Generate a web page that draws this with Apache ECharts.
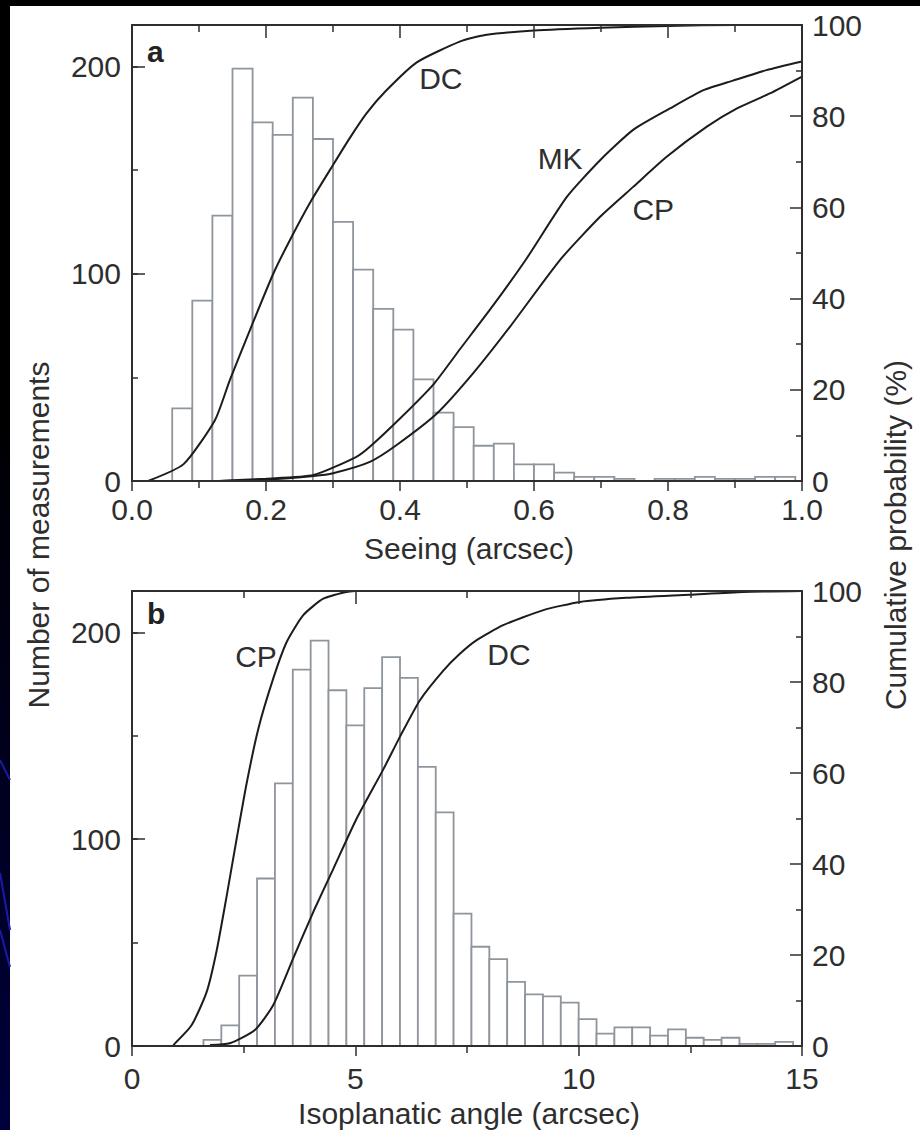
<!DOCTYPE html>
<html>
<head>
<meta charset="utf-8">
<title>Seeing and isoplanatic angle distributions</title>
<script src="https://cdn.jsdelivr.net/npm/echarts@6/dist/echarts.min.js"></script>
<style>
  html, body { margin: 0; padding: 0; background: #000; }
  #chart { width: 920px; height: 1130px; }
</style>
</head>
<body>
<div id="chart"></div>
<script>
// ---- Panel a: seeing (arcsec) ----
const seeingEdges = [0.06, 0.09, 0.12, 0.15, 0.18, 0.21, 0.24, 0.27, 0.30, 0.33, 0.36,
  0.39, 0.42, 0.45, 0.48, 0.51, 0.54, 0.57, 0.60, 0.63, 0.66, 0.69, 0.72, 0.75, 0.78,
  0.81, 0.84, 0.87, 0.90, 0.93, 0.96, 0.99];
const seeingCounts = [35, 87, 128, 199, 173, 167, 185, 165, 125, 102, 83, 73, 49, 33,
  26, 17, 18, 8, 8, 4, 2, 2, 1, 0, 1, 1, 2, 1, 1, 2, 2];

// cumulative probability (%) for the three sites
const seeingDC = [[0.024, 0], [0.077, 3.7], [0.124, 13.4], [0.146, 22.1], [0.176, 33.1],
  [0.211, 45.5], [0.236, 52.9], [0.268, 61.6], [0.300, 69.3], [0.325, 75.2], [0.35, 80.6],
  [0.378, 85.4], [0.425, 91.8], [0.49, 96.4], [0.527, 97.8], [0.6, 98.8], [0.7, 99.4],
  [0.8, 99.8], [0.9, 100], [1.0, 100]];
const seeingMK = [[0.13, 0], [0.2, 0.5], [0.271, 1.3], [0.335, 5.3], [0.355, 7.5],
  [0.40, 13.7], [0.45, 21.2], [0.49, 29.0], [0.539, 38.5], [0.589, 48.8], [0.649, 62.3],
  [0.699, 70.4], [0.748, 77.0], [0.803, 81.7], [0.853, 85.7], [0.897, 87.8], [0.947, 90.1],
  [1.0, 92.0]];
const seeingCP = [[0.13, 0], [0.2, 0.3], [0.271, 1.1], [0.300, 1.7], [0.355, 4.2],
  [0.395, 7.9], [0.455, 14.8], [0.509, 23.6], [0.564, 33.8], [0.639, 48.5], [0.699, 58.0],
  [0.748, 64.5], [0.798, 71.1], [0.858, 77.7], [0.903, 81.7], [0.952, 85.0], [1.0, 88.7]];

// ---- Panel b: isoplanatic angle (arcsec) ----
const isoEdges = [1.6, 2.0, 2.4, 2.8, 3.2, 3.6, 4.0, 4.4, 4.8, 5.2, 5.6, 6.0, 6.4, 6.8,
  7.2, 7.6, 8.0, 8.4, 8.8, 9.2, 9.6, 10.0, 10.4, 10.8, 11.2, 11.6, 12.0, 12.4, 12.8, 13.2,
  13.6, 14.0, 14.4, 14.8];
const isoCounts = [3, 10, 34, 81, 127, 182, 196, 172, 155, 173, 188, 178, 135, 113, 64,
  48, 42, 31, 25, 24, 21, 13, 6, 9, 9, 5, 8, 4, 3, 4, 1, 1, 2];

const isoCP = [[0.925, 0.2], [1.336, 4.6], [1.672, 11.9], [1.896, 21.0], [2.12, 33.0],
  [2.344, 45.6], [2.568, 57.8], [2.83, 69.8], [3.163, 80.8], [3.463, 88.8], [3.835, 94.7],
  [4.283, 98.3], [4.806, 99.8], [5.0, 100]];
const isoDC = [[1.746, 0.2], [2.19, 0.6], [2.75, 3.5], [3.163, 9.0], [3.611, 19.3],
  [4.06, 29.5], [4.51, 39.0], [5.03, 50.0], [5.626, 60.8], [6.0, 68.0], [6.447, 76.0],
  [6.97, 82.5], [7.34, 86.2], [7.717, 89.2], [8.31, 92.5], [9.21, 95.8], [10.03, 97.6],
  [11.07, 98.5], [12.49, 99.2], [13.68, 99.8], [15, 100]];

// ---- styling ----
const font = '"Liberation Sans", Arial, Helvetica, sans-serif';
const ink = '#2e2e2e';
const barStroke = '#8e959c';
const curveColor = '#1c1c1c';

function xAxisPair(grid, max, interval, decimals, labelMargin) {
  const line = { onZero: false, lineStyle: { color: ink, width: 2 } };
  return [
    {
      gridIndex: grid, type: 'value', position: 'bottom', min: 0, max: max, interval: interval,
      axisLine: line,
      axisTick: { inside: false, length: 10, lineStyle: { color: ink, width: 1.5 } },
      minorTick: { show: true, splitNumber: 2, length: 7, lineStyle: { color: ink, width: 1.5 } },
      axisLabel: { margin: labelMargin, fontSize: 30, color: ink, fontFamily: font,
        formatter: v => v.toFixed(decimals) },
      splitLine: { show: false }, minorSplitLine: { show: false }, z: 5
    },
    {
      gridIndex: grid, type: 'value', position: 'top', min: 0, max: max, interval: interval,
      axisLine: line,
      axisTick: { inside: true, length: 13, lineStyle: { color: ink, width: 1.5 } },
      minorTick: { show: true, splitNumber: 2, length: 7, lineStyle: { color: ink, width: 1.5 } },
      axisLabel: { show: false },
      splitLine: { show: false }, minorSplitLine: { show: false }, z: 5
    }
  ];
}

function yAxisSet(grid) {
  const line = { onZero: false, lineStyle: { color: ink, width: 2 } };
  return [
    { // counts, labelled every 100
      gridIndex: grid, type: 'value', position: 'left', min: 0, max: 220, interval: 100,
      axisLine: line,
      axisTick: { inside: true, length: 13, lineStyle: { color: ink, width: 1.5 } },
      axisLabel: { margin: 11, fontSize: 30, color: ink, fontFamily: font,
        formatter: v => (v % 100 === 0 ? String(v) : '') },
      splitLine: { show: false }, z: 5
    },
    { // counts, short ticks every 50
      gridIndex: grid, type: 'value', position: 'left', min: 0, max: 220, interval: 50,
      axisLine: { show: false },
      axisTick: { inside: true, length: 6, lineStyle: { color: ink, width: 1.5 } },
      axisLabel: { show: false },
      splitLine: { show: false }, z: 5
    },
    { // cumulative probability (%)
      gridIndex: grid, type: 'value', position: 'right', min: 0, max: 100, interval: 20,
      axisLine: line,
      axisTick: { inside: true, length: 12, lineStyle: { color: ink, width: 1.5 } },
      minorTick: { show: true, splitNumber: 2, length: 6, lineStyle: { color: ink, width: 1.5 } },
      axisLabel: { margin: 10, fontSize: 30, color: ink, fontFamily: font },
      splitLine: { show: false }, minorSplitLine: { show: false }, z: 5
    }
  ];
}

function histogram(xIndex, yIndex, edges, counts) {
  return {
    type: 'custom', xAxisIndex: xIndex, yAxisIndex: yIndex, z: 1, silent: true,
    data: counts.map((c, i) => [edges[i], edges[i + 1], c]),
    encode: { x: [0, 1], y: 2 },
    renderItem: (params, api) => {
      const topLeft = api.coord([api.value(0), api.value(2)]);
      const bottomRight = api.coord([api.value(1), 0]);
      return {
        type: 'rect',
        shape: { x: topLeft[0], y: topLeft[1],
                 width: bottomRight[0] - topLeft[0], height: bottomRight[1] - topLeft[1] },
        style: { fill: '#ffffff', stroke: barStroke, lineWidth: 1.8 }
      };
    }
  };
}

function curve(xIndex, yIndex, name, data, labelAt) {
  return {
    type: 'line', name: name, xAxisIndex: xIndex, yAxisIndex: yIndex, z: 3,
    data: data, showSymbol: false, smooth: 0.2, silent: true,
    lineStyle: { color: curveColor, width: 2 },
    markPoint: {
      symbol: 'circle', symbolSize: 0, silent: true,
      label: { show: true, position: 'inside', formatter: name, fontSize: 30,
               color: ink, fontFamily: font },
      data: [{ coord: labelAt }]
    }
  };
}

const titleStyle = { fontSize: 30, fill: ink, fontFamily: font };

const option = {
  backgroundColor: '#000000',
  animation: false,
  grid: [
    { left: 132, top: 25, width: 670, height: 456, outerBoundsMode: 'none' },
    { left: 132, top: 591, width: 670, height: 455, outerBoundsMode: 'none' }
  ],
  xAxis: [
    ...xAxisPair(0, 1, 0.2, 1, 13),
    ...xAxisPair(1, 15, 5, 0, 17)
  ],
  yAxis: [
    ...yAxisSet(0),
    ...yAxisSet(1)
  ],
  series: [
    histogram(0, 0, seeingEdges, seeingCounts),
    curve(0, 2, 'DC', seeingDC, [0.461, 88.2]),
    curve(0, 2, 'MK', seeingMK, [0.639, 70.8]),
    curve(0, 2, 'CP', seeingCP, [0.778, 59.6]),
    histogram(2, 3, isoEdges, isoCounts),
    curve(2, 5, 'CP', isoCP, [2.776, 85.7]),
    curve(2, 5, 'DC', isoDC, [8.44, 86.1])
  ],
  graphic: [
    { type: 'rect', z: -10, silent: true,
      shape: { x: 10, y: 6, width: 910, height: 1124 }, style: { fill: '#ffffff' } },
    { type: 'rect', z: -10, silent: true,
      shape: { x: 0, y: 400, width: 10, height: 730 },
      style: { fill: new echarts.graphic.LinearGradient(0, 0, 0, 1,
        [{ offset: 0, color: '#000000' }, { offset: 1, color: '#00003c' }]) } },
    { type: 'line', z: -9, silent: true, shape: { x1: 0, y1: 760, x2: 10, y2: 780 },
      style: { stroke: '#1a1aa8', lineWidth: 2 } },
    { type: 'line', z: -9, silent: true, shape: { x1: 0, y1: 873, x2: 10, y2: 930 },
      style: { stroke: '#1a1aa8', lineWidth: 2 } },
    { type: 'line', z: -9, silent: true, shape: { x1: 0, y1: 930, x2: 10, y2: 967 },
      style: { stroke: '#1a1aa8', lineWidth: 2 } },
    // panel letters
    { type: 'text', z: 10, silent: true, x: 147, y: 51,
      style: { text: 'a', fontSize: 30, fontWeight: 'bold', fill: '#222', fontFamily: font,
               verticalAlign: 'middle' } },
    { type: 'text', z: 10, silent: true, x: 147, y: 613,
      style: { text: 'b', fontSize: 30, fontWeight: 'bold', fill: '#222', fontFamily: font,
               verticalAlign: 'middle' } },
    // axis titles
    { type: 'text', z: 10, silent: true, x: 469, y: 548,
      style: Object.assign({ text: 'Seeing (arcsec)', align: 'center', verticalAlign: 'middle' }, titleStyle) },
    { type: 'text', z: 10, silent: true, x: 469, y: 1113,
      style: Object.assign({ text: 'Isoplanatic angle (arcsec)', align: 'center', verticalAlign: 'middle' }, titleStyle) },
    { type: 'text', z: 10, silent: true, x: 38, y: 535, rotation: Math.PI / 2,
      style: Object.assign({ text: 'Number of measurements', align: 'center', verticalAlign: 'middle' }, titleStyle) },
    { type: 'text', z: 10, silent: true, x: 895, y: 535, rotation: Math.PI / 2,
      style: Object.assign({ text: 'Cumulative probability (%)', align: 'center', verticalAlign: 'middle' }, titleStyle) }
  ]
};

const chart = echarts.init(document.getElementById('chart'), null, { renderer: 'svg' });
chart.setOption(option);
</script>
</body>
</html>
